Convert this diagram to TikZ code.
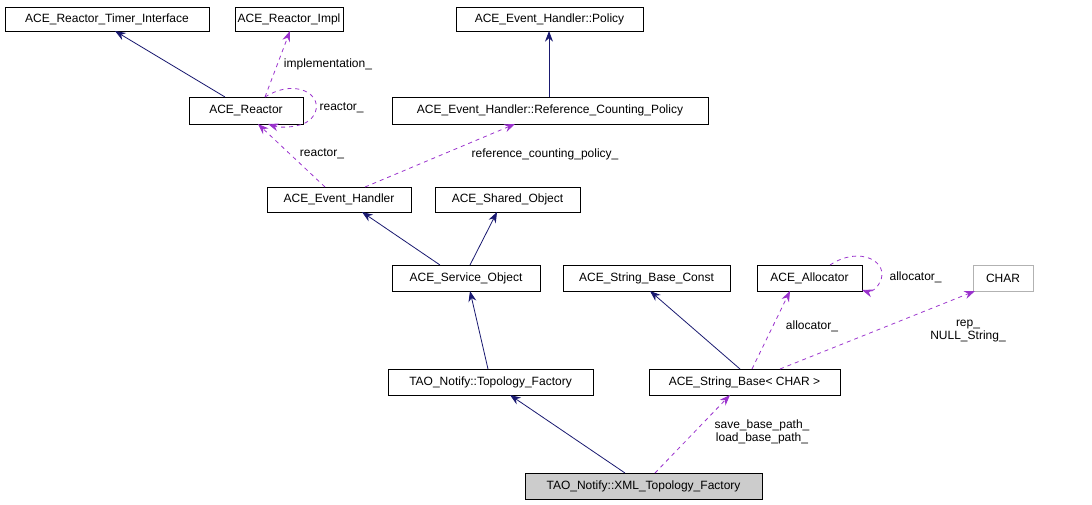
\documentclass[tikz,border=0pt]{standalone}
\usepackage{fontspec}
\setmainfont{Liberation Sans}
\usetikzlibrary{arrows.meta}
\definecolor{navy}{RGB}{25,25,112}
\definecolor{purp}{RGB}{154,50,205}
\begin{document}
\begin{tikzpicture}[x=0.75pt,y=-0.75pt,
  cls/.style={draw=black,line width=0.6pt,inner sep=0pt,font=\fontsize{9}{10}\selectfont,anchor=north west},
  inh/.style={draw=navy,line width=0.6pt,-{Stealth[length=8pt,width=6pt]}},
  use/.style={draw=purp,line width=0.6pt,dashed,-{Stealth[length=8pt,width=6pt]}},
  lab/.style={font=\fontsize{9}{10}\selectfont,align=center,inner sep=1pt}]
\useasboundingbox (0,0) rectangle (1092,504);
\newcommand{\cbox}[6]{\node[cls,minimum width=#4*0.75pt-#2*0.75pt,minimum height=#5*0.75pt-#3*0.75pt,#6] (#1) at (#2,#3) {};}
\cbox{rti}{5}{7}{209}{31}{} \node[lab] at (107,19) {ACE\_Reactor\_Timer\_Interface};
\cbox{rim}{235}{7}{343}{31}{} \node[lab] at (289,19) {ACE\_Reactor\_Impl};
\cbox{pol}{456}{7}{643}{31}{} \node[lab] at (549.5,19) {ACE\_Event\_Handler::Policy};
\cbox{rea}{189}{97}{303}{124}{} \node[lab] at (246,110.5) {ACE\_Reactor};
\cbox{rcp}{392}{97}{708}{124}{} \node[lab] at (550,110.5) {ACE\_Event\_Handler::Reference\_Counting\_Policy};
\cbox{evh}{267}{187}{411}{212}{} \node[lab] at (339,199.5) {ACE\_Event\_Handler};
\cbox{sho}{435}{187}{580}{212}{} \node[lab] at (507.5,199.5) {ACE\_Shared\_Object};
\cbox{svo}{392}{265}{540}{291}{} \node[lab] at (466,278) {ACE\_Service\_Object};
\cbox{sbc}{563}{265}{730}{291}{} \node[lab] at (646.5,278) {ACE\_String\_Base\_Const};
\cbox{all}{757}{265}{862}{291}{} \node[lab] at (809.5,278) {ACE\_Allocator};
\cbox{chr}{973}{265}{1033}{291}{draw=gray!60} \node[lab] at (1003,278) {CHAR};
\cbox{tf}{388}{369}{593}{395}{} \node[lab] at (490.5,382) {TAO\_Notify::Topology\_Factory};
\cbox{sb}{649}{369}{840}{395}{} \node[lab] at (744.5,382) {ACE\_String\_Base< CHAR >};
\cbox{xml}{525}{473}{762}{499}{fill=gray!40} \node[lab] at (643.5,486) {TAO\_Notify::XML\_Topology\_Factory};
% inheritance
\draw[inh] (225,97) -- (115,31);
\draw[inh] (549,97) -- (549,31);
\draw[inh] (440,265) -- (362,212);
\draw[inh] (470,265) -- (497,212);
\draw[inh] (488,369) -- (470,291);
\draw[inh] (740,369) -- (650,291);
\draw[inh] (625,473) -- (510,395);
% usage
\draw[use] (265,97) -- (290,31);
\node[lab] at (328,64) {implementation\_};
\draw[use] (265,97) .. controls (300,75) and (330,100) .. (310,120) .. controls (300,128) and (280,128) .. (268,124);
\node[lab,anchor=west] at (318,108) {reactor\_};
\draw[use] (325,187) -- (258,124);
\node[lab] at (322,154) {reactor\_};
\draw[use] (365,187) -- (515,124);
\node[lab] at (545,154) {reference\_counting\_policy\_};
\draw[use] (752,369) -- (790,291);
\node[lab] at (812,326) {allocator\_};
\draw[use] (830,265) .. controls (860,245) and (890,262) .. (880,282) .. controls (875,292) and (868,292) .. (862,290);
\node[lab,anchor=west] at (888,277) {allocator\_};
\draw[use] (780,369) -- (975,291);
\node[lab] at (968,331) {rep\_\\NULL\_String\_};
\draw[use] (655,473) -- (730,395);
\node[lab] at (762,432) {save\_base\_path\_\\load\_base\_path\_};
\end{tikzpicture}
\end{document}
